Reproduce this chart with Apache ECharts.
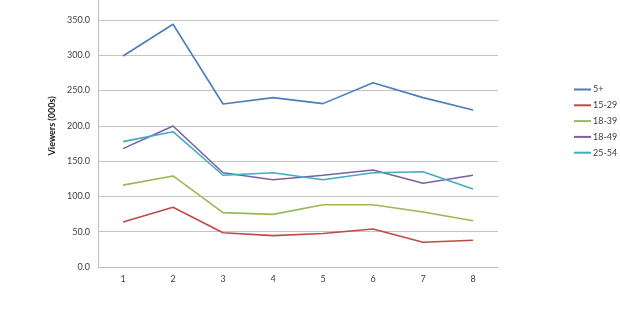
<!DOCTYPE html>
<html>
<head>
<meta charset="utf-8">
<script src="https://cdn.jsdelivr.net/npm/echarts@6/dist/echarts.min.js"></script>
<style>html,body{margin:0;padding:0;background:#fff;}#c{width:620px;height:310px;}</style>
</head>
<body>
<div id="c"></div>
<script>
var categories = ['1','2','3','4','5','6','7','8'];
var s5plus = [299, 344, 231, 240, 231.5, 261, 240, 222.5];
var s15_29 = [63.8, 84.6, 48.6, 44.4, 47.5, 53.8, 35, 37.8];
var s18_39 = [116, 129, 77, 74.6, 88.3, 88.3, 78, 65.6];
var s18_49 = [167.7, 199.8, 133.6, 123.7, 130, 137.4, 118.6, 130];
var s25_54 = [177.6, 191.7, 130, 133.6, 123.7, 133.6, 135, 110.5];
var seriesNames = ['5+', '15-29', '18-39', '18-49', '25-54'];
var colors = ['#4A7EBB', '#BE4B48', '#98B954', '#7D60A0', '#46AAC5'];
var allData = [s5plus, s15_29, s18_39, s18_49, s25_54];

var chart = echarts.init(document.getElementById('c'));
chart.setOption({
  animation: false,
  color: colors,
  textStyle: {fontFamily: 'Lato, Liberation Sans, sans-serif'},
  legend: {
    orient: 'vertical',
    left: 569,
    top: 80,
    itemWidth: 17,
    itemHeight: 2,
    itemGap: 6.8,
    icon: 'rect',
    textStyle: {fontSize: 9, color: '#404040', padding: [0,0,0,-3]},
    data: seriesNames
  },
  grid: {left: 98, right: 122, top: -15.3, bottom: 43, containLabel: false, outerBoundsMode: 'none'},
  xAxis: {
    type: 'category',
    data: categories,
    boundaryGap: true,
    axisLine: {lineStyle: {color: '#BEBEBE', width: 1}},
    axisTick: {show: false},
    axisLabel: {fontSize: 9, color: '#404040', margin: 8}
  },
  yAxis: {
    type: 'value',
    min: 0, max: 400, interval: 50,
    name: 'Viewers (000s)',
    nameLocation: 'middle',
    nameGap: 31,
    nameTextStyle: {fontSize: 9, fontWeight: 'bold', color: '#202020'},
    axisLine: {show: true, lineStyle: {color: '#BEBEBE', width: 1}},
    axisTick: {show: false},
    splitLine: {lineStyle: {color: '#C4C4C4', width: 1}},
    axisLabel: {fontSize: 9, color: '#404040', margin: 8, formatter: function(v){return v.toFixed(1);}}
  },
  series: allData.map(function(d, i){
    return {name: seriesNames[i], type: 'line', data: d, symbol: 'none', lineStyle: {width: 1.6, color: colors[i]}, itemStyle: {color: colors[i]}};
  })
});
</script>
</body>
</html>
